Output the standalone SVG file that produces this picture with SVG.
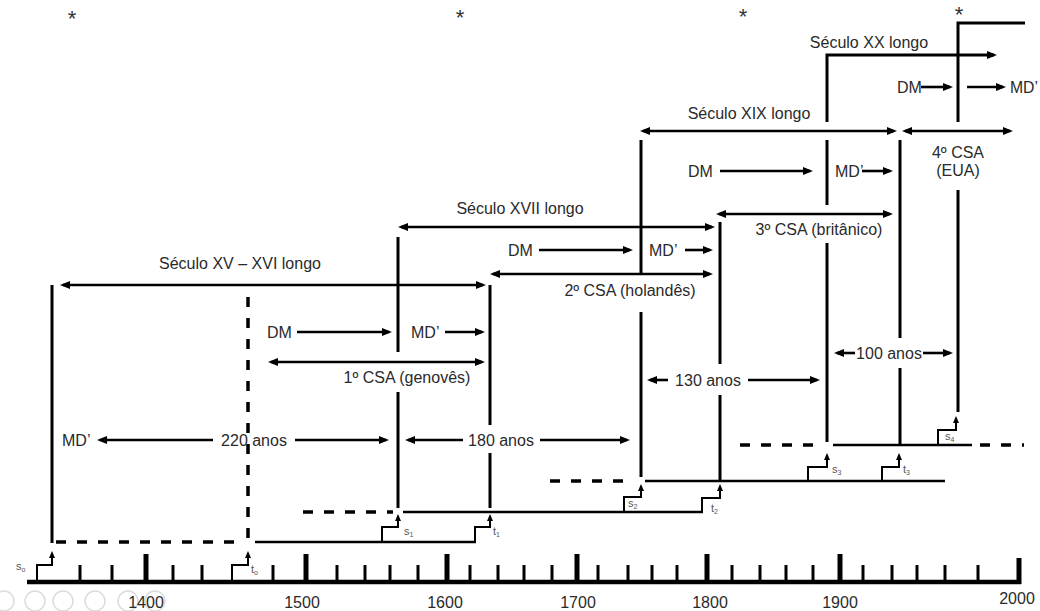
<svg xmlns="http://www.w3.org/2000/svg" width="1040" height="611" viewBox="0 0 1040 611">
<style>
text{font-family:"Liberation Sans",Arial,sans-serif;fill:#2a2a2a}
.t{font-size:16px}
.m{text-anchor:middle}
.ax{font-size:16px;text-anchor:middle}
.sub{font-size:11px;fill:#555}
.ast{font-size:22px;text-anchor:middle;fill:#333}
.ar{stroke:#000;stroke-width:2.6;fill:none}
.v{stroke:#000;stroke-width:3;fill:none}
.lv{stroke:#000;stroke-width:2.6;fill:none}
.ds{stroke:#000;stroke-width:3.5;fill:none;stroke-dasharray:10 11}
.st{stroke:#000;stroke-width:2;fill:none}
.tk{stroke:#000;stroke-width:3}
.tb{stroke:#000;stroke-width:5}
.ui{fill:none;stroke:#dcdcdc;stroke-width:1.5}
</style>
<defs>
<marker id="ah" viewBox="0 0 10 8" refX="7" refY="4" markerWidth="10" markerHeight="8" markerUnits="userSpaceOnUse" orient="auto-start-reverse"><path d="M0,0 L10,4 L0,8 z" fill="#000"/></marker>
<marker id="sa" viewBox="0 0 7 6" refX="5" refY="3" markerWidth="7" markerHeight="6" markerUnits="userSpaceOnUse" orient="auto"><path d="M0,0 L7,3 L0,6 z" fill="#000"/></marker>
</defs>

<g id="player-ui">
<circle class="ui" cx="4" cy="601" r="10"/>
<circle class="ui" cx="35" cy="601" r="10"/>
<circle class="ui" cx="63" cy="601" r="10"/>
<circle class="ui" cx="95" cy="601" r="10"/>
<circle class="ui" cx="128" cy="601" r="10"/>
<circle class="ui" cx="155" cy="601" r="10"/>
</g>

<g id="asterisks">
<text x="72" y="26" class="ast">*</text>
<text x="460" y="25" class="ast">*</text>
<text x="743" y="24" class="ast">*</text>
<text x="959" y="22" class="ast">*</text>
</g>

<g id="axis">
<line x1="27" y1="582" x2="1021" y2="582" stroke="#000" stroke-width="4.5"/>
<g class="tk">
<line x1="80" y1="582" x2="80" y2="565"/><line x1="112" y1="582" x2="112" y2="565"/>
<line x1="173" y1="582" x2="173" y2="565"/><line x1="202" y1="582" x2="202" y2="565"/>
<line x1="273" y1="582" x2="273" y2="565"/><line x1="337" y1="582" x2="337" y2="565"/>
<line x1="365" y1="582" x2="365" y2="565"/><line x1="390" y1="582" x2="390" y2="565"/>
<line x1="418" y1="582" x2="418" y2="565"/><line x1="470" y1="582" x2="470" y2="565"/>
<line x1="498" y1="582" x2="498" y2="565"/><line x1="524" y1="582" x2="524" y2="565"/>
<line x1="552" y1="582" x2="552" y2="565"/><line x1="598" y1="582" x2="598" y2="565"/>
<line x1="628" y1="582" x2="628" y2="565"/><line x1="652" y1="582" x2="652" y2="565"/>
<line x1="677" y1="582" x2="677" y2="565"/><line x1="732" y1="582" x2="732" y2="565"/>
<line x1="760" y1="582" x2="760" y2="565"/><line x1="786" y1="582" x2="786" y2="565"/>
<line x1="813" y1="582" x2="813" y2="565"/><line x1="863" y1="582" x2="863" y2="565"/>
<line x1="892" y1="582" x2="892" y2="565"/><line x1="917" y1="582" x2="917" y2="565"/>
<line x1="945" y1="582" x2="945" y2="565"/><line x1="978" y1="582" x2="978" y2="565"/>
</g>
<g class="tb">
<line x1="146" y1="582" x2="146" y2="554"/><line x1="306" y1="582" x2="306" y2="554"/>
<line x1="447" y1="582" x2="447" y2="554"/><line x1="577" y1="582" x2="577" y2="554"/>
<line x1="707" y1="582" x2="707" y2="554"/><line x1="840" y1="582" x2="840" y2="554"/>
<line x1="1019" y1="584" x2="1019" y2="558"/>
</g>
<text class="ax" x="146" y="608">1400</text>
<text class="ax" x="302" y="608">1500</text>
<text class="ax" x="445" y="608">1600</text>
<text class="ax" x="578" y="608">1700</text>
<text class="ax" x="710" y="608">1800</text>
<text class="ax" x="840" y="608">1900</text>
<text class="ax" x="1017" y="604">2000</text>
</g>

<g id="levels">
<line class="ds" x1="56" y1="542" x2="244" y2="542"/>
<line class="ds" x1="248" y1="538" x2="248" y2="292"/>
<line class="lv" x1="255" y1="542" x2="476" y2="542"/>
<line class="ds" x1="303" y1="512" x2="393" y2="512"/>
<line class="lv" x1="403" y1="512" x2="703" y2="512"/>
<line class="ds" x1="550" y1="481" x2="633" y2="481"/>
<line class="lv" x1="645" y1="481" x2="945" y2="481"/>
<line class="ds" x1="740" y1="445" x2="823" y2="445"/>
<line class="lv" x1="833" y1="445" x2="972" y2="445"/>
<line class="ds" x1="980" y1="445" x2="1024" y2="445"/>
</g>

<g id="steps">
<path class="st" d="M37,582 V565 H52 V553" marker-end="url(#sa)"/>
<path class="st" d="M232,582 V565 H248 V553" marker-end="url(#sa)"/>
<path class="st" d="M382,542 V527 H398 V516" marker-end="url(#sa)"/>
<path class="st" d="M475,542 V527 H490 V516" marker-end="url(#sa)"/>
<path class="st" d="M624,512 V497 H641 V486" marker-end="url(#sa)"/>
<path class="st" d="M702,512 V498 H720 V486" marker-end="url(#sa)"/>
<path class="st" d="M808,481 V467 H827 V455" marker-end="url(#sa)"/>
<path class="st" d="M882,481 V467 H899 V455" marker-end="url(#sa)"/>
<path class="st" d="M938,445 V430 H956 V418" marker-end="url(#sa)"/>
<text class="sub" x="16" y="570">s<tspan font-size="7" dy="2">o</tspan></text>
<text class="sub" x="251" y="573">t<tspan font-size="7" dy="2">o</tspan></text>
<text class="sub" x="404" y="535">s<tspan font-size="7" dy="2">1</tspan></text>
<text class="sub" x="493" y="535">t<tspan font-size="7" dy="2">1</tspan></text>
<text class="sub" x="628" y="507">s<tspan font-size="7" dy="2">2</tspan></text>
<text class="sub" x="711" y="512">t<tspan font-size="7" dy="2">2</tspan></text>
<text class="sub" x="832" y="473">s<tspan font-size="7" dy="2">3</tspan></text>
<text class="sub" x="903" y="473">t<tspan font-size="7" dy="2">3</tspan></text>
<text class="sub" x="945" y="440">s<tspan font-size="7" dy="2">4</tspan></text>
</g>

<g id="dividers">
<line class="v" x1="52" y1="285" x2="52" y2="543"/>
<line class="v" x1="398" y1="237" x2="398" y2="352"/>
<line class="v" x1="398" y1="392" x2="398" y2="508"/>
<line class="v" x1="490" y1="285" x2="490" y2="425"/>
<line class="v" x1="490" y1="453" x2="490" y2="508"/>
<line class="v" x1="641" y1="140" x2="641" y2="273"/>
<line class="v" x1="641" y1="312" x2="641" y2="477"/>
<line class="v" x1="720" y1="222" x2="720" y2="364"/>
<line class="v" x1="720" y1="395" x2="720" y2="481"/>
<line class="v" x1="827" y1="140" x2="827" y2="205"/>
<line class="v" x1="827" y1="243" x2="827" y2="442"/>
<line class="v" x1="900" y1="140" x2="900" y2="338"/>
<line class="v" x1="900" y1="368" x2="900" y2="445"/>
<line class="v" x1="958" y1="190" x2="958" y2="412"/>
<path class="v" d="M958,122 V23 H1025"/>
</g>

<g id="connectors">
<line class="ar" x1="63" y1="285" x2="483" y2="285" marker-start="url(#ah)" marker-end="url(#ah)"/>
<line class="ar" x1="297" y1="332" x2="389" y2="332" marker-end="url(#ah)"/>
<line class="ar" x1="445" y1="332" x2="482" y2="332" marker-end="url(#ah)"/>
<line class="ar" x1="271" y1="362" x2="482" y2="362" marker-start="url(#ah)" marker-end="url(#ah)"/>
<line class="ar" x1="213" y1="440" x2="100" y2="440" marker-end="url(#ah)"/>
<line class="ar" x1="295" y1="440" x2="386" y2="440" marker-end="url(#ah)"/>
<line class="ar" x1="463" y1="440" x2="408" y2="440" marker-end="url(#ah)"/>
<line class="ar" x1="540" y1="440" x2="627" y2="440" marker-end="url(#ah)"/>
<line class="ar" x1="401" y1="227" x2="712" y2="227" marker-start="url(#ah)" marker-end="url(#ah)"/>
<line class="ar" x1="539" y1="250" x2="630" y2="250" marker-end="url(#ah)"/>
<line class="ar" x1="685" y1="250" x2="710" y2="250" marker-end="url(#ah)"/>
<line class="ar" x1="493" y1="274" x2="710" y2="274" marker-start="url(#ah)" marker-end="url(#ah)"/>
<line class="ar" x1="668" y1="380" x2="650" y2="380" marker-end="url(#ah)"/>
<line class="ar" x1="748" y1="380" x2="817" y2="380" marker-end="url(#ah)"/>
<line class="ar" x1="643" y1="131" x2="894" y2="131" marker-start="url(#ah)" marker-end="url(#ah)"/>
<line class="ar" x1="905" y1="131" x2="1010" y2="131" marker-start="url(#ah)" marker-end="url(#ah)"/>
<line class="ar" x1="720" y1="171" x2="810" y2="171" marker-end="url(#ah)"/>
<line class="ar" x1="862" y1="171" x2="890" y2="171" marker-end="url(#ah)"/>
<line class="ar" x1="719" y1="214" x2="890" y2="214" marker-start="url(#ah)" marker-end="url(#ah)"/>
<line class="ar" x1="855" y1="353" x2="837" y2="353" marker-end="url(#ah)"/>
<line class="ar" x1="923" y1="353" x2="950" y2="353" marker-end="url(#ah)"/>
<path class="v" d="M827,122 V55 H994" marker-end="url(#ah)"/>
<line class="ar" x1="921" y1="87" x2="950" y2="87" marker-end="url(#ah)"/>
<line class="ar" x1="967" y1="87" x2="1003" y2="87" marker-end="url(#ah)"/>
</g>

<g id="labels" class="t">
<text class="m" x="240" y="269">Século XV – XVI longo</text>
<text class="m" x="520" y="214">Século XVII longo</text>
<text class="m" x="749" y="119">Século XIX longo</text>
<text class="m" x="869" y="48">Século XX longo</text>
<text class="m" x="407" y="383">1º CSA (genovês)</text>
<text class="m" x="630" y="296">2º CSA (holandês)</text>
<text class="m" x="819" y="235">3º CSA (britânico)</text>
<text class="m" x="958" y="158">4º CSA</text>
<text class="m" x="958" y="176">(EUA)</text>
<text class="m" x="254" y="446">220 anos</text>
<text class="m" x="501" y="446">180 anos</text>
<text class="m" x="708" y="386">130 anos</text>
<text class="m" x="889" y="359">100 anos</text>
<text x="62" y="446">MD’</text>
<text x="267" y="338">DM</text>
<text x="411" y="338">MD’</text>
<text x="508" y="256">DM</text>
<text x="649" y="256">MD’</text>
<text x="688" y="177">DM</text>
<text x="835" y="177">MD’</text>
<text x="897" y="93">DM</text>
<text x="1010" y="93" textLength="28" lengthAdjust="spacingAndGlyphs">MD’</text>
</g>
</svg>
